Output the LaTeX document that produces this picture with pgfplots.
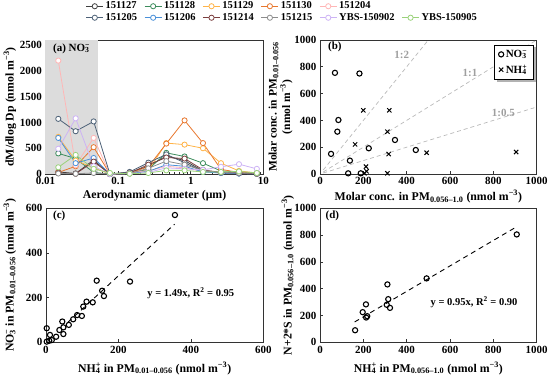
\documentclass[border=0pt]{standalone}
\usepackage{fontspec}
\setmainfont{Liberation Serif}
\usepackage{pgfplots}
\usepackage{pgfplotstable}
\pgfplotsset{compat=1.18}
\usetikzlibrary{shadows}
\definecolor{cA}{HTML}{3F3F3F}
\definecolor{cB}{HTML}{3C8C5C}
\definecolor{cC}{HTML}{FFB347}
\definecolor{cD}{HTML}{E8772E}
\definecolor{cE}{HTML}{FFB6B6}
\definecolor{cF}{HTML}{4D6177}
\definecolor{cG}{HTML}{4A90D9}
\definecolor{cH}{HTML}{7B3F3F}
\definecolor{cI}{HTML}{8C8C8C}
\definecolor{cJ}{HTML}{CDB3F5}
\definecolor{cK}{HTML}{9AD27A}
\definecolor{shade}{HTML}{DCDCDC}
\newcommand{\subsup}[2]{\rlap{\textsubscript{#1}}\textsuperscript{#2}}
\newcommand{\ft}{\fontsize{10.5}{12.6}\selectfont\bfseries}
\newcommand{\fl}{\fontsize{11.8}{13.5}\selectfont\bfseries}
\newcommand{\fk}{\fontsize{11}{13}\selectfont\bfseries}
\pgfplotsset{
  base/.style={scale only axis, anchor=south west, clip=false,
    axis line style={line width=0.9pt, black!80},
    every tick/.style={line width=0.7pt, black!80},
    major tick length=3pt, minor tick length=1.8pt,
    tick align=inside, tick pos=left,
    tick label style={font=\fk},
    /pgf/number format/assume math mode=true,
    /pgf/number format/1000 sep={},
    yticklabel={\mbox{\fk\pgfmathprintnumber[assume math mode=true]{\tick}}}},
  lin/.style={xticklabel={\mbox{\fk\pgfmathprintnumber[assume math mode=true]{\tick}}}},
  ser/.style={color=#1, line width=0.8pt, mark=*, mark size=2.6pt,
    mark options={fill=white, draw=#1, line width=0.8pt}},
  refl/.style={color=gray!55, line width=0.7pt, dash pattern=on 4pt off 3pt},
  fitl/.style={black, line width=0.9pt, dash pattern=on 5pt off 4pt},
  circ/.style={only marks, mark=o, mark size=2.6pt, black, line width=1.1pt},
}
\pgfplotstableread{
x      a127 a128 a129 a130 a204 a205 a206 a214 a215 y902 y905
0.015  40   400  720  30   2200 1070 700  20   10   490  130
0.026  10   300  260  150  170  830  210  5    5    1080 370
0.046  270  30   120  520  700  1020 310  240  20   150  100
0.077  0    0    0    0    0    0    0    0    0    0    20
0.144  30   20   10   20   30   40   10   20   10   10   5
0.26   150  90   70   140  60   220  50   180  110  30   20
0.46   350  410  600  590  150  380  180  320  250  120  70
0.82   260  340  570  1040 120  220  150  300  180  100  70
1.47   60   210  500  600  50   50   40   80   70   80   40
2.6    30   60   210  90   30   20   20   30   30   140  40
4.6    15   40   60   30   20   10   10   20   20   190  50
8.1    5    15   20   10   10   5    5    5    10   100  20
}\tA
\begin{document}
\begin{tikzpicture}
\useasboundingbox (0pt,0pt) rectangle (550pt,376pt);
% ---------------- (a)
\begin{axis}[base, at={(45.5pt,202pt)}, width=218pt, height=134pt,
  xmode=log, xmin=0.01, xmax=10, ymin=0, ymax=2600,
  xtick={0.01,0.1,1,10}, xticklabels={\mbox{\fk 0.01},\mbox{\fk 0.1},\mbox{\fk 1},\mbox{\fk 10}},
  ytick={0,500,1000,1500,2000,2500},
  xlabel={Aerodynamic diameter (μm)},
  ylabel={dM/dlog Dp (nmol m\textsuperscript{−3})},
  every axis x label/.style={at={(axis description cs:0.5,-0.164)},anchor=center,font=\fl},
  every axis y label/.style={at={(axis description cs:-0.163,0.5)},rotate=90,anchor=center,font=\fl},
  legend columns=6,
  legend style={at={(axis description cs:1.0867,1.30)}, anchor=north, draw=none, fill=none,
    font=\ft, inner sep=0pt, row sep=-1pt,
    /tikz/every even column/.append style={column sep=5pt}},
  legend cell align=left]
\addplot[fill=shade, draw=none, forget plot] coordinates {(0.01,2600) (0.052,2600)} \closedcycle;
\addplot[ser=cA] table[x=x,y=a127]{\tA}; \addlegendentry{151127}
\addplot[ser=cB] table[x=x,y=a128]{\tA}; \addlegendentry{151128}
\addplot[ser=cC] table[x=x,y=a129]{\tA}; \addlegendentry{151129}
\addplot[ser=cD] table[x=x,y=a130]{\tA}; \addlegendentry{151130}
\addplot[ser=cE] table[x=x,y=a204]{\tA}; \addlegendentry{151204}
\addlegendimage{empty legend}\addlegendentry{}
\addplot[ser=cF] table[x=x,y=a205]{\tA}; \addlegendentry{151205}
\addplot[ser=cG] table[x=x,y=a206]{\tA}; \addlegendentry{151206}
\addplot[ser=cH] table[x=x,y=a214]{\tA}; \addlegendentry{151214}
\addplot[ser=cI] table[x=x,y=a215]{\tA}; \addlegendentry{151215}
\addplot[ser=cJ] table[x=x,y=y902]{\tA}; \addlegendentry{YBS-150902}
\addplot[ser=cK] table[x=x,y=y905]{\tA}; \addlegendentry{YBS-150905}
\node[font=\fk, anchor=north west, inner sep=0pt] at (axis description cs:0.034,0.975) {(a) NO\subsup{3}{−}};
\end{axis}
% ---------------- (b)
\begin{axis}[base, lin, at={(320pt,202pt)}, width=216.7pt, height=134pt,
  xmin=0, xmax=1000, ymin=0, ymax=1000,
  xtick={0,200,...,1000}, ytick={0,200,...,1000},
  xlabel={Molar conc. in PM\textsubscript{0.056–1.0} (nmol m\textsuperscript{−3})},
  ylabel={Molar conc. in PM\textsubscript{0.01–0.056}\\(nmol m\textsuperscript{−3})},
  every axis x label/.style={at={(axis description cs:0.5,-0.169)},anchor=center,font=\fl},
  every axis y label/.style={at={(axis description cs:-0.182,0.5)},rotate=90,anchor=center,align=center,font=\fontsize{11.5}{13.5}\selectfont\bfseries},
  legend style={at={(axis description cs:0.985,0.965)}, anchor=north east, draw=black, fill=white,
    font=\fk, line width=0.6pt, row sep=2pt, inner xsep=4pt, inner ysep=3pt,
    general shadow={fill=gray!60, shadow xshift=2.5pt, shadow yshift=-2.5pt}},
  legend cell align=left]
\addplot[refl, forget plot] coordinates {(15,30) (500,1000)};
\addplot[refl, forget plot] coordinates {(15,15) (1000,1000)};
\addplot[refl, forget plot] coordinates {(15,7.5) (1000,500)};
\addplot[circ] coordinates {(69,755) (182,750) (85,403) (80,316) (51,150) (138,100) (130,5) (188,5) (225,192) (346,254) (442,179)};
\addlegendentry{NO\subsup{3}{−}}
\addplot[only marks, mark=x, mark size=3pt, black, line width=1.0pt] coordinates {(200,475) (320,475) (162,221) (311,316) (317,149) (492,159) (905,164) (212,55) (215,20) (311,5) (205,5)};
\addlegendentry{NH\subsup{4}{+}}
\node[font=\fk, text=gray!75] at (axis cs:377,888) {1:2};
\node[font=\fk, text=gray!75] at (axis cs:692,751) {1:1};
\node[font=\fk, text=gray!75] at (axis cs:846,453) {1:0.5};
\node[font=\fk, anchor=north west, inner sep=0pt] at (axis description cs:0.037,0.985) {(b)};
\end{axis}
% ---------------- (c)
\begin{axis}[base, lin, at={(46pt,33.7pt)}, width=217.3pt, height=134pt,
  xmin=0, xmax=600, ymin=0, ymax=600,
  xtick={0,200,400,600}, ytick={0,200,400,600},
  xlabel={NH\subsup{4}{+} in PM\textsubscript{0.01–0.056} (nmol m\textsuperscript{−3})},
  ylabel={NO\subsup{3}{−} in PM\textsubscript{0.01–0.056} (nmol m\textsuperscript{−3})},
  every axis x label/.style={at={(axis description cs:0.5,-0.195)},anchor=center,font=\fl},
  every axis y label/.style={at={(axis description cs:-0.166,0.5)},rotate=90,anchor=center,font=\fl}]
\addplot[fitl] coordinates {(60,89) (355,529)};
\addplot[circ] coordinates {(356,570) (232,272) (140,276) (155,231) (160,207) (112,182) (129,179) (103,160) (99,118) (86,122) (75,103) (63,78) (45,93) (48,67) (37,55) (48,37) (28,25) (11,33) (2,63) (9,7) (2,3) (16,10)};
\node[font=\ft] at (axis cs:400,219) {y = 1.49x, R\textsuperscript{2} = 0.95};
\node[font=\fk, anchor=north west, inner sep=0pt] at (axis description cs:0.032,0.985) {(c)};
\end{axis}
% ---------------- (d)
\begin{axis}[base, lin, at={(320pt,33.7pt)}, width=216.7pt, height=134pt,
  xmin=0, xmax=1000, ymin=0, ymax=1000,
  xtick={0,200,...,1000}, ytick={0,200,...,1000},
  xlabel={NH\subsup{4}{+} in PM\textsubscript{0.056–1.0} (nmol m\textsuperscript{−3})},
  ylabel={N+2*S in PM\textsubscript{0.056–1.0} (nmol m\textsuperscript{−3})},
  every axis x label/.style={at={(axis description cs:0.5,-0.195)},anchor=center,font=\fl},
  every axis y label/.style={at={(axis description cs:-0.148,0.5)},rotate=90,anchor=center,font=\fl}]
\addplot[fitl] coordinates {(160,152) (905,860)};
\addplot[circ] coordinates {(162,90) (197,225) (212,283) (213,185) (218,195) (308,280) (311,432) (315,322) (323,257) (492,477) (908,805)};
\node[font=\ft] at (axis cs:711,300) {y = 0.95x, R\textsuperscript{2} = 0.90};
\node[font=\fk, anchor=north west, inner sep=0pt] at (axis description cs:0.025,0.985) {(d)};
\end{axis}
\end{tikzpicture}
\end{document}
